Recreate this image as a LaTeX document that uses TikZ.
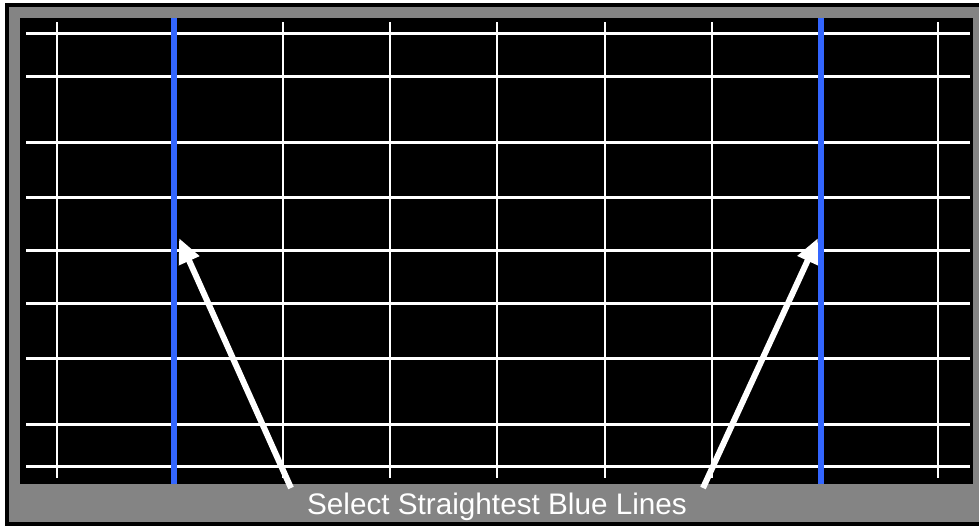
\documentclass[tikz,border=0pt]{standalone}
\usepackage{fontspec}
\setmainfont{Liberation Sans}
\definecolor{lineblue}{RGB}{51,102,255}
\definecolor{framegray}{RGB}{132,132,132}
\usetikzlibrary{arrows.meta}

\begin{document}
\begin{tikzpicture}[
    x=1pt, y=-1pt,
    hline/.style={white, line width=3pt},
    vline/.style={white, line width=2.5pt},
    blueline/.style={lineblue, line width=6pt},
    pointer/.style={-{Triangle[width=21pt,length=25pt]}, white, line width=6pt},
    caption/.style={text=white, font=\fontsize{29.7}{32}\selectfont, inner sep=0pt, anchor=base}
]
    \useasboundingbox (0,0) rectangle (979,525);
    % Frame
    \fill[white] (0,0) rectangle (979,525);
    \fill[black] (5,3) rectangle (990,530);
    \fill[framegray] (9,7) rectangle (990,522);
    \fill[black] (20,18) rectangle (973,484);

    % Grid lines
    \foreach \y in {33,76,142,197,250,303,358,424,466} \draw[hline] (26,\y) -- (970,\y);
    \foreach \x in {57,283,390,497,605,712,938} \draw[vline] (\x,22) -- (\x,478);

    % Blue lines
    \draw[blueline] (174,18) -- (174,484);
    \draw[blueline] (821,18) -- (821,484);

    % Caption and pointers
    \node[caption] (cap) at (497,514) {Select Straightest Blue Lines};
    \coordinate (tailL) at (291,488);
    \coordinate (tailR) at (703,488);
    \coordinate (tipL) at (179,238);
    \coordinate (tipR) at (818,238);
    \draw[pointer] (tailL) -- (tipL);
    \draw[pointer] (tailR) -- (tipR);
\end{tikzpicture}
\end{document}
